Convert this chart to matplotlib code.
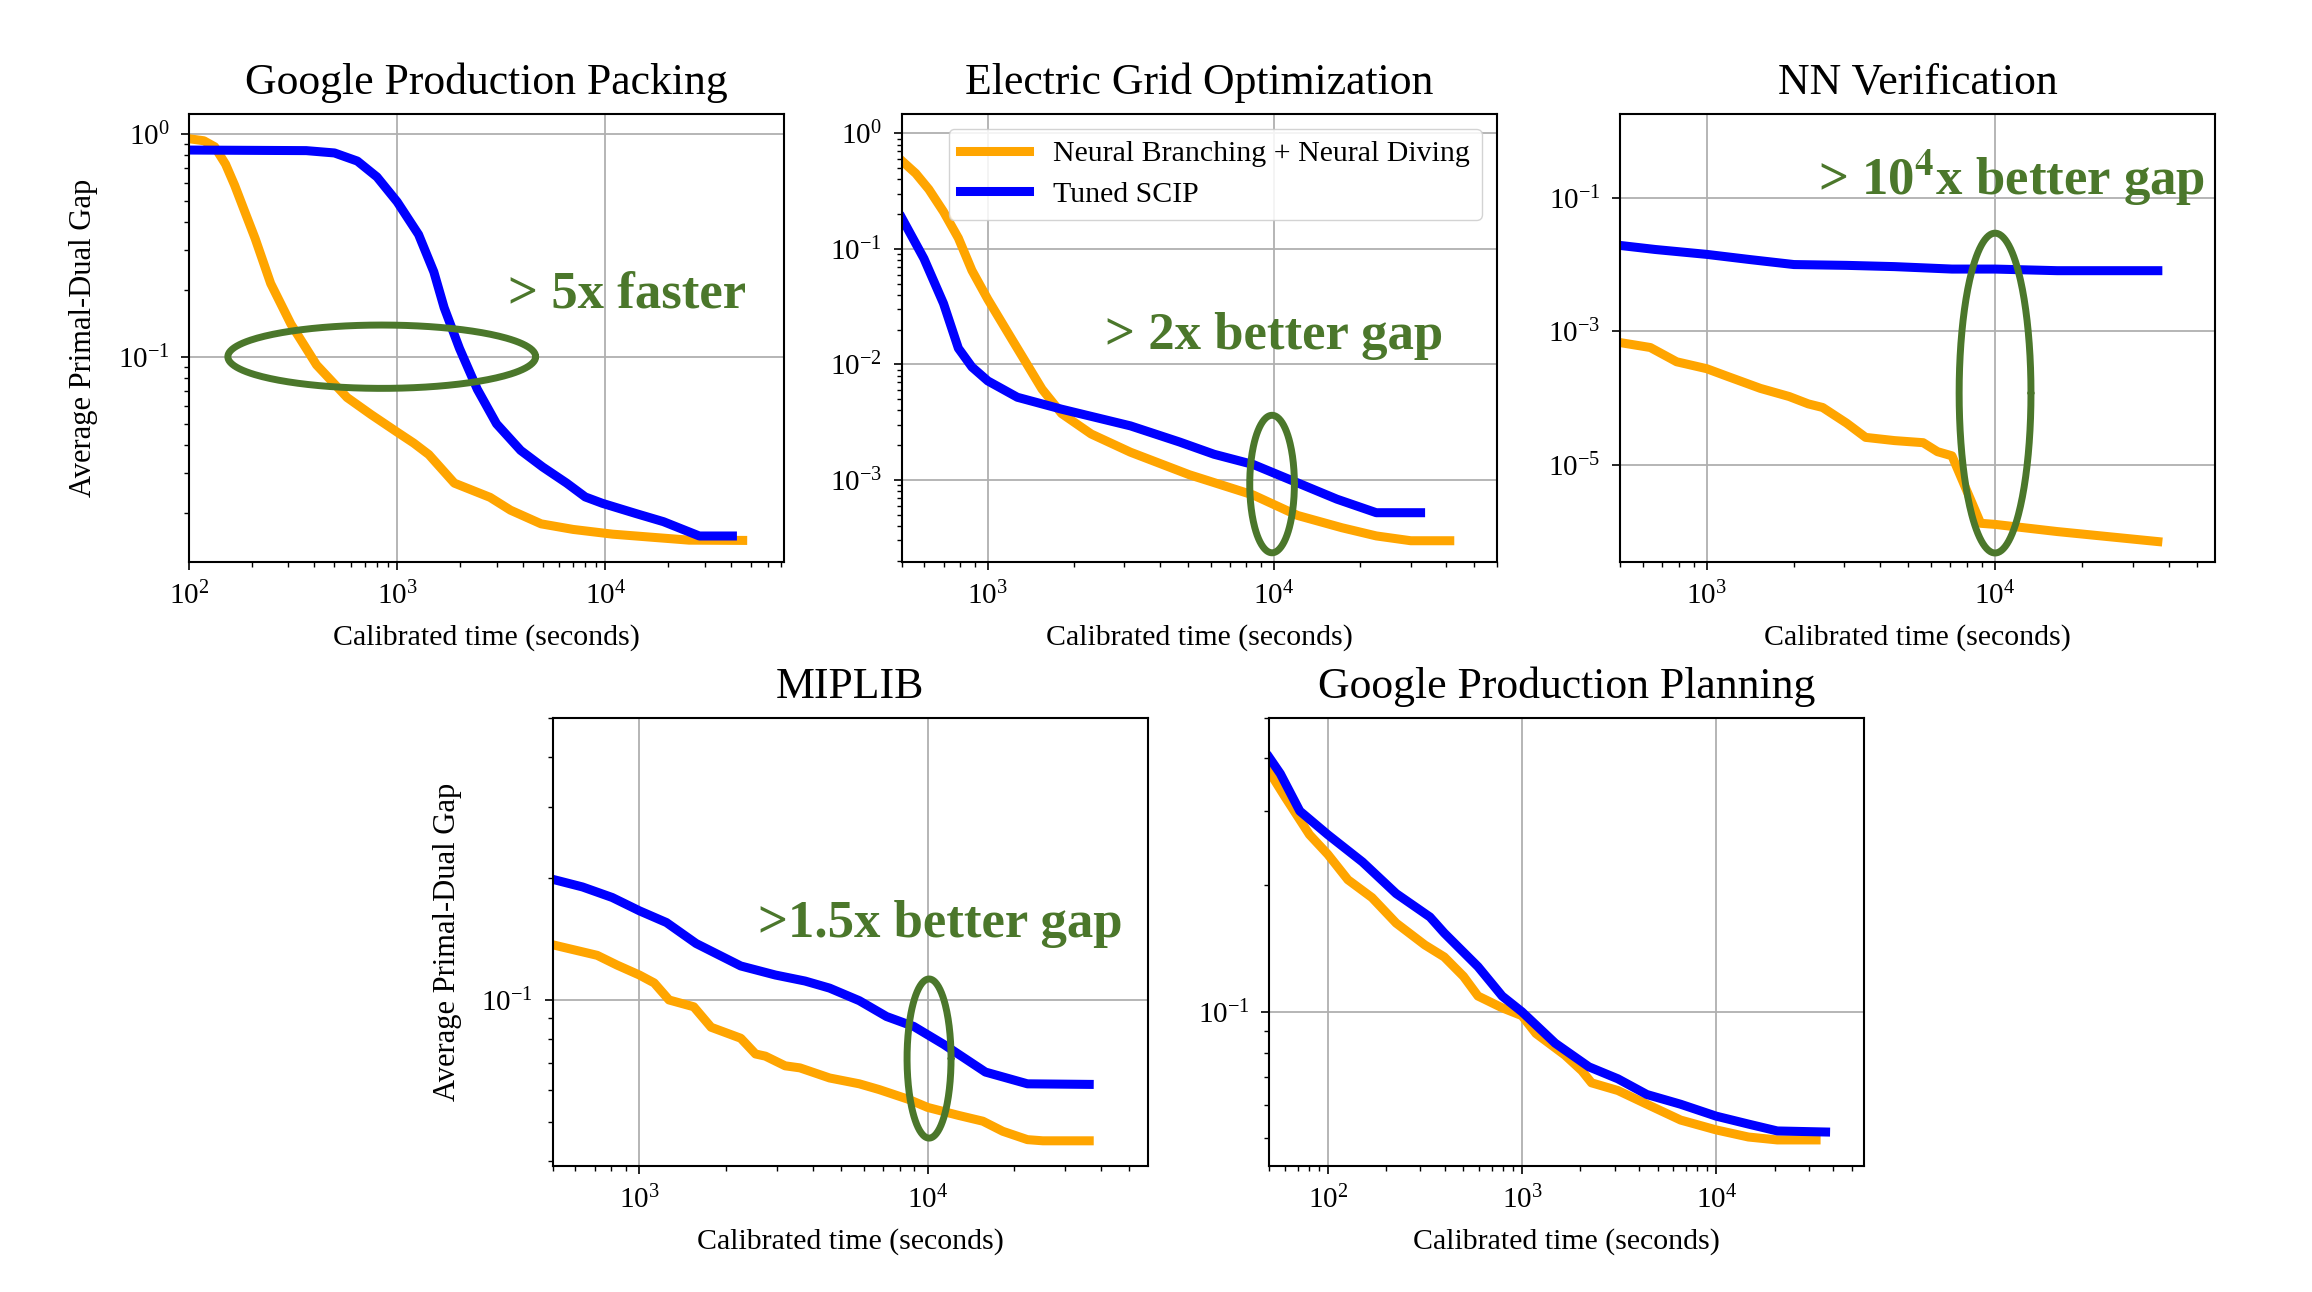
import numpy as np
import matplotlib
matplotlib.use('Agg')
import matplotlib.pyplot as plt
from matplotlib.ticker import NullFormatter, NullLocator

plt.rcParams['font.family'] = ['Liberation Serif', 'DejaVu Serif']
plt.rcParams['mathtext.fontset'] = 'stix'

ORANGE = '#FFA500'
BLUE = '#0000FF'
GREEN = '#4B772B'

LABEL_NB = 'Neural Branching + Neural Diving'
LABEL_SCIP = 'Tuned SCIP'

# Google Production Packing
pack_t_nb = [100, 118, 133, 150, 166, 185, 208, 247, 309, 410, 575, 750, 1000, 1200, 1419, 1882, 2793, 3500,
             4910, 7000, 10820, 25240, 45600]
pack_gap_nb = [0.95, 0.93, 0.874, 0.73, 0.586, 0.45, 0.339, 0.213, 0.140, 0.0919, 0.0656, 0.055, 0.0459,
               0.041, 0.0364, 0.0271, 0.0234, 0.0205, 0.0178, 0.0168, 0.0160, 0.01504, 0.0150]
pack_t_scip = [100, 366, 500, 644, 800, 1000, 1267, 1500, 1681, 1991, 2426, 3000, 3917, 5000, 6515, 8000,
               9670, 14000, 19000, 28250, 40700]
pack_gap_scip = [0.845, 0.84, 0.82, 0.754, 0.64, 0.495, 0.353, 0.24, 0.166, 0.109, 0.0714, 0.050, 0.038,
                 0.032, 0.0271, 0.0235, 0.022, 0.0198, 0.0182, 0.0157, 0.0157]

# Electric Grid Optimization
grid_t_nb = [500, 560, 622, 700, 789, 880, 1000, 1219, 1546, 1810, 2297, 3150, 5060, 8470, 12090, 17270,
             22760, 30040, 41100]
grid_gap_nb = [0.58, 0.45, 0.328, 0.21, 0.124, 0.065, 0.0366, 0.0162, 0.00612, 0.00376, 0.0025, 0.00174,
               0.00111, 0.00074, 0.000493, 0.000386, 0.000328, 0.000298, 0.000298]
grid_t_scip = [500, 598, 700, 789, 880, 1000, 1268, 1810, 3150, 4680, 6170, 8470, 12090, 16590, 22760, 32500]
grid_gap_scip = [0.186, 0.0825, 0.0337, 0.0138, 0.0095, 0.0072, 0.0052, 0.0041, 0.00294, 0.00213, 0.00167,
                 0.00136, 0.000944, 0.000682, 0.000521, 0.000521]

# NN Verification
nnv_t_nb = [500, 637, 786, 1000, 1174, 1535, 1932, 2250, 2523, 3054, 3556, 4478, 5632, 6315, 7087, 8913,
            10000, 16440, 36700]
nnv_gap_nb = [6.75e-4, 5.69e-4, 3.48e-4, 2.74e-4, 2.12e-4, 1.39e-4, 1.05e-4, 8.15e-5, 7.2e-5, 4.2e-5,
              2.57e-5, 2.3e-5, 2.14e-5, 1.57e-5, 1.36e-5, 1.33e-6, 1.28e-6, 1.0e-6, 7.08e-7]
nnv_t_scip = [500, 662, 1000, 1422, 2006, 3054, 4478, 7087, 10000, 16440, 36700]
nnv_gap_scip = [0.0192, 0.0167, 0.0141, 0.01175, 0.00993, 0.00966, 0.00925, 0.0085, 0.0085, 0.00804, 0.00804]

# MIPLIB
mip_t_nb = [500, 714, 837, 1000, 1126, 1268, 1544, 1774, 2248, 2530, 2737, 3205, 3608, 4571, 5795, 6792,
            8610, 10000, 12780, 15550, 18230, 22200, 25100, 36360]
mip_gap_nb = [0.137, 0.129, 0.122, 0.1153, 0.1102, 0.100, 0.0962, 0.0856, 0.0804, 0.0735, 0.0726, 0.0687,
              0.0679, 0.0641, 0.0620, 0.0600, 0.0567, 0.0542, 0.0518, 0.0501, 0.0473, 0.0451, 0.0448, 0.0448]
mip_t_scip = [500, 635, 805, 1000, 1242, 1574, 2248, 2964, 3758, 4571, 5795, 7204, 8952, 11350, 15870,
              22200, 36360]
mip_gap_scip = [0.199, 0.1905, 0.1794, 0.1663, 0.1555, 0.138, 0.1214, 0.1153, 0.1114, 0.107, 0.0996, 0.091,
                0.086, 0.0777, 0.0663, 0.062, 0.0618]

# Google Production Planning
plan_t_nb = [50, 60.4, 80.5, 100, 127, 169, 225, 316, 398, 500, 594, 791, 1000, 1181, 1664, 2036, 2281,
             3120, 4398, 6563, 10000, 14660, 20660, 32700]
plan_gap_nb = [0.372, 0.3236, 0.2637, 0.2368, 0.206, 0.1868, 0.1625, 0.1442, 0.135, 0.1214, 0.109, 0.1022,
               0.0979, 0.0888, 0.0789, 0.0724, 0.0678, 0.065, 0.0603, 0.0553, 0.0524, 0.0504, 0.0496, 0.0496]
plan_t_scip = [50, 57, 71.8, 100, 151, 225, 336, 398, 594, 791, 1000, 1484, 2212, 3120, 4398, 6563, 10000,
               14660, 20660, 36600]
plan_gap_scip = [0.402, 0.368, 0.300, 0.2637, 0.227, 0.191, 0.168, 0.1539, 0.128, 0.109, 0.100, 0.0842,
                 0.074, 0.0693, 0.0636, 0.0603, 0.0565, 0.0541, 0.0521, 0.0518]

# callouts: text, text position (x, y), ellipse centre (log10 x, log10 y), half axes in decades
callouts = {
    'pack': ('> 5x faster', (12700, 0.19), (2.926, -1.0), (0.739, 0.142)),
    'grid': ('> 2x better gap', (10000, 0.0176), (3.993, -3.035), (0.078, 0.595)),
    'nnv': (r'> 10$^{\mathbf{4}}$x better gap', (11400, 0.197), (4.0, -3.927), (0.1246, 2.394)),
    'mip': ('>1.5x better gap', (11100, 0.1545), (4.005, -1.145), (0.0763, 0.197)),
}

fig = plt.figure(figsize=(23.12, 12.92), dpi=100)
W, H = 0.2574, 0.347
panels = [
    ('Google Production Packing', [0.0817, 0.565, W, H], pack_t_nb, pack_gap_nb, pack_t_scip, pack_gap_scip,
     (100, 7.2e4), (0.012, 1.23), 'pack'),
    ('Electric Grid Optimization', [0.390, 0.565, W, H], grid_t_nb, grid_gap_nb, grid_t_scip, grid_gap_scip,
     (500, 6.0e4), (1.95e-4, 1.48), 'grid'),
    ('NN Verification', [0.7007, 0.565, W, H], nnv_t_nb, nnv_gap_nb, nnv_t_scip, nnv_gap_scip,
     (500, 5.8e4), (3.5e-7, 1.8), 'nnv'),
    ('MIPLIB', [0.239, 0.0975, W, H], mip_t_nb, mip_gap_nb, mip_t_scip, mip_gap_scip,
     (500, 5.8e4), (0.0388, 0.5), 'mip'),
    ('Google Production Planning', [0.549, 0.0975, W, H], plan_t_nb, plan_gap_nb, plan_t_scip, plan_gap_scip,
     (50, 5.8e4), (0.043, 0.5), None),
]

for i, (title, rect, t_nb, g_nb, t_sc, g_sc, xlim, ylim, key) in enumerate(panels):
    ax = fig.add_axes(rect)
    ax.plot(t_nb, g_nb, color=ORANGE, lw=6.5, label=LABEL_NB)
    ax.plot(t_sc, g_sc, color=BLUE, lw=6.5, label=LABEL_SCIP)
    ax.set_xscale('log')
    ax.set_yscale('log')
    ax.set_xlim(*xlim)
    ax.set_ylim(*ylim)
    ax.grid(True, which='major', color='#b0b0b0', lw=1.3)
    ax.set_axisbelow(True)
    ax.yaxis.set_minor_formatter(NullFormatter())
    ax.xaxis.set_minor_formatter(NullFormatter())
    if key == 'nnv':
        ax.set_yticks([1e-5, 1e-3, 1e-1])
        ax.yaxis.set_minor_locator(NullLocator())
    if key in ('mip', None):
        ax.set_yticks([1e-1])
    ax.tick_params(which='major', labelsize=21, length=6, width=1.2, pad=8)
    ax.tick_params(which='minor', length=3.5, width=1.0)
    for sp in ax.spines.values():
        sp.set_linewidth(1.5)
    ax.set_title(title, fontsize=31.5, pad=14)
    ax.set_xlabel('Calibrated time (seconds)', fontsize=21.5, labelpad=10)
    if i in (0, 3):
        ax.set_ylabel('Average Primal-Dual Gap', fontsize=22, labelpad=14)
    if i == 1:
        ax.legend(loc='upper right', fontsize=21.5, handlelength=2.3, borderaxespad=0.5,
                  labelspacing=0.45, edgecolor='#cccccc', framealpha=0.85)
    if key is not None:
        txt, (tx, ty), (cx, cy), (ax_w, ax_h) = callouts[key]
        ax.text(tx, ty, txt, color=GREEN, fontsize=38, fontweight='bold', ha='center', va='center')
        th = np.linspace(0, 2 * np.pi, 241)
        ax.plot(10 ** (cx + ax_w * np.cos(th)), 10 ** (cy + ax_h * np.sin(th)), color=GREEN, lw=5,
                solid_capstyle='round', solid_joinstyle='round')

fig.savefig('out.png', dpi=100)
